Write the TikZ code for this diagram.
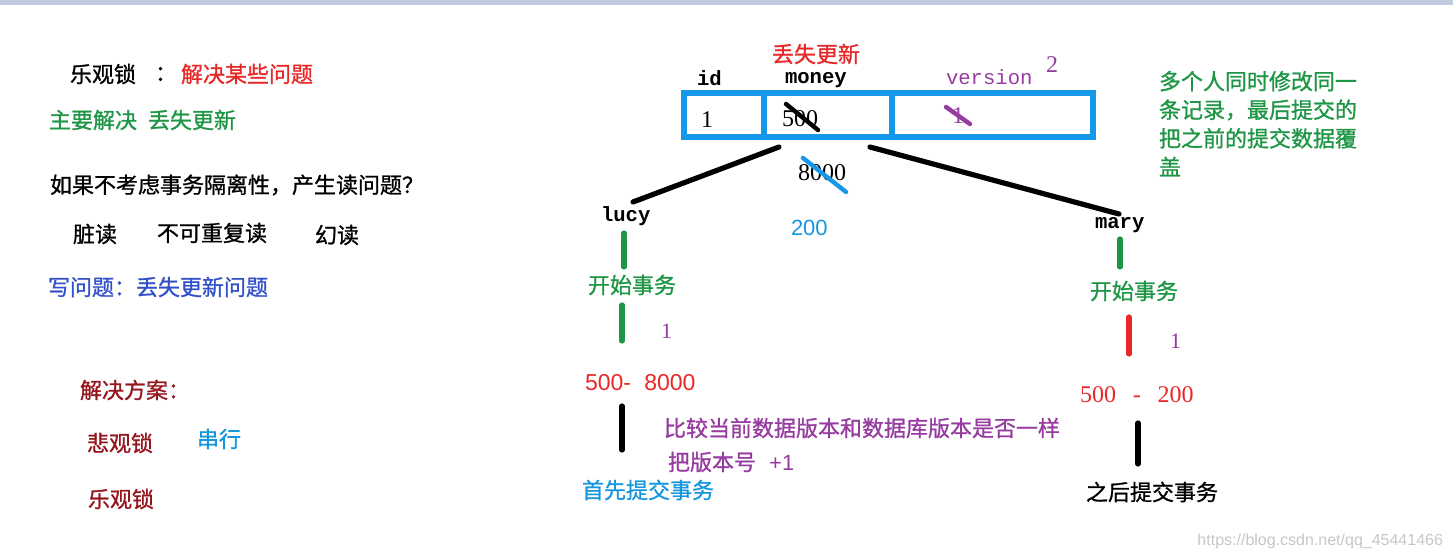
\documentclass[tikz,border=0pt]{standalone}
\usepackage{fontspec}
\setmainfont{Liberation Serif}
\newfontfamily\cjk[AutoFakeBold=1.0]{Noto Sans CJK SC}
\newfontfamily\monof{Liberation Mono}
\newfontfamily\sansf{Liberation Sans}
\definecolor{cgreen}{RGB}{30,150,70}
\definecolor{cred}{RGB}{232,40,40}
\definecolor{cdred}{RGB}{150,22,30}
\definecolor{cblue}{RGB}{50,80,200}
\definecolor{clblue}{RGB}{22,150,222}
\definecolor{cpurple}{RGB}{150,60,160}
\definecolor{ctbl}{RGB}{22,152,232}
\definecolor{cstrip}{RGB}{192,202,222}
\begin{document}
\begin{tikzpicture}[x=0.5pt,y=-0.5pt,
  every node/.style={inner sep=0pt,outer sep=0pt},
  cn/.style={font=\cjk\bfseries\fontsize{11}{13}\selectfont,anchor=west},
  mn/.style={font=\monof\bfseries\fontsize{10.3}{12}\selectfont,anchor=west},
  sn/.style={font=\fontsize{12}{14}\selectfont,anchor=west},
  ss/.style={font=\sansf\fontsize{11.5}{14}\selectfont,anchor=west},
  bar/.style={line width=2.6pt,line cap=round},
  tbl/.style={draw=ctbl,line width=2.6pt},
  strike/.style={line width=2.2pt,line cap=round}]
\useasboundingbox (0,0) rectangle (1453,560);
\fill[cstrip] (0,0) rectangle (1453,5);
% left texts
\node[cn] (t1) at (70,74) {乐观锁};
\node[cn] (t1c) at (155,74) {：};
\node[cn,text=cred] (t1r) at (181,74) {解决某些问题};
\node[cn,text=cgreen] (t2) at (49,120) {主要解决\hspace{0.5em}丢失更新};
\node[cn] (t3) at (50,185) {如果不考虑事务隔离性，产生读问题？};
\node[cn] (t4a) at (73,234) {脏读};
\node[cn] (t4b) at (157,233) {不可重复读};
\node[cn] (t4c) at (315,235) {幻读};
\node[cn,text=cblue] (t5) at (48,287) {写问题：丢失更新问题};
\node[cn,text=cdred] (t6) at (80,390) {解决方案：};
\node[cn,text=cdred] (t7) at (87,443) {悲观锁};
\node[cn,text=clblue] (t7b) at (197,439) {串行};
\node[cn,text=cdred] (t8) at (88,499) {乐观锁};
% table
\node[cn,text=cred] (lost) at (772,54) {丢失更新};
\node[mn] (hid) at (697,78) {id};
\node[mn] (hmoney) at (785,80) {money};
\node[mn,font=\monof\fontsize{10.3}{12}\selectfont,text=cpurple] (hver) at (946,77) {version};
\node[sn,text=cpurple] (v2) at (1046,65) {2};
\draw[tbl] (684,93) rectangle (1093,137);
\draw[tbl] (764,93) -- (764,137);
\draw[tbl] (892,93) -- (892,137);
\node[sn] (cid) at (701,120) {1};
\node[sn] (cmoney) at (782,119) {500};
\node[sn,text=cpurple] (cver) at (952,116) {1};
\draw[strike,black] (786,104) -- (818,130);
\draw[strike,cpurple] (946,107) -- (970,124);
\node[sn] (n8000) at (798,173) {8000};
\draw[strike,ctbl] (803,158) -- (846,192);
\node[ss,font=\sansf\fontsize{11}{13}\selectfont,text=clblue] (n200) at (791,228) {200};
% branches
\node[mn] (lucy) at (601,216) {lucy};
\node[mn] (mary) at (1095,225) {mary};
\coordinate (ls) at (779,147);
\coordinate (le) at (633,202);
\coordinate (ms) at (870,147);
\coordinate (me) at (1119,214);
\draw[bar] (ls) -- (le);
\draw[bar] (ms) -- (me);
% lucy column
\coordinate (a1) at (624,233); \coordinate (a2) at (624,267);
\draw[bar,cgreen] (a1) -- (a2);
\node[cn,text=cgreen] (ls1) at (588,285) {开始事务};
\coordinate (a3) at (622,305); \coordinate (a4) at (622,341);
\draw[bar,cgreen] (a3) -- (a4);
\node[sn,font=\fontsize{11}{13}\selectfont,text=cpurple] (lv) at (661,331) {1};
\node[ss,text=cred] (lcalc) at (585,383) {500-\hspace{0.3em} 8000};
\coordinate (a5) at (622,406); \coordinate (a6) at (622,450);
\draw[bar,black] (a5) -- (a6);
\node[cn,text=cpurple] (cmp) at (664,428) {比较当前数据版本和数据库版本是否一样};
\node[cn,text=cpurple] (inc) at (668,462) {把版本号\hspace{0.6em}{\sansf\mdseries +1}};
\node[cn,text=clblue] (lcommit) at (582,490) {首先提交事务};
% mary column
\coordinate (b1) at (1120,239); \coordinate (b2) at (1120,267);
\draw[bar,cgreen] (b1) -- (b2);
\node[cn,text=cgreen] (ms1) at (1090,291) {开始事务};
\coordinate (b3) at (1129,317); \coordinate (b4) at (1129,354);
\draw[bar,cred] (b3) -- (b4);
\node[sn,font=\fontsize{11}{13}\selectfont,text=cpurple] (mv) at (1170,341) {1};
\node[sn,text=cred] (mcalc) at (1080,395) {500\hspace{0.7em}-\hspace{0.7em}200};
\coordinate (b5) at (1138,423); \coordinate (b6) at (1138,464);
\draw[bar,black] (b5) -- (b6);
\node[cn] (mcommit) at (1086,492) {之后提交事务};
% note
\node[cn,text=cgreen,align=left,anchor=north west,font=\cjk\bfseries\fontsize{11}{14.3}\selectfont] (note) at (1159,71) {多个人同时修改同一\\条记录，最后提交的\\把之前的提交数据覆\\盖};
% watermark
\node[anchor=east,font=\sansf\fontsize{8}{10}\selectfont,text=black!22] (wm) at (1443,541) {https://blog.csdn.net/qq\_45441466};
\end{tikzpicture}
\end{document}
